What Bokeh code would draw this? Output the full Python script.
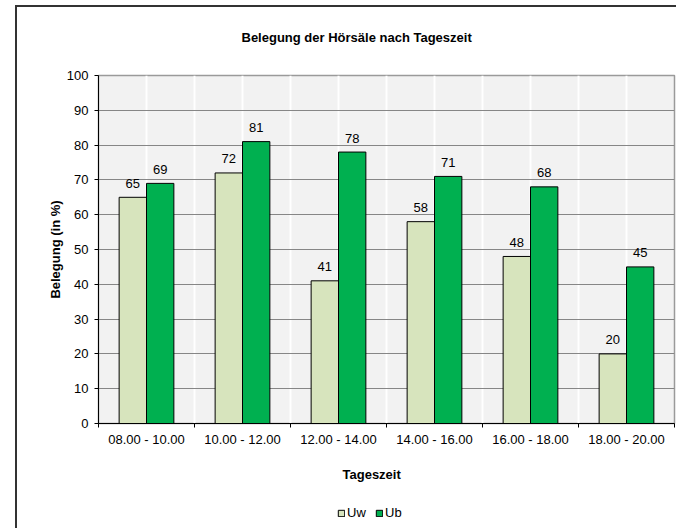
import numpy as np
from bokeh.plotting import figure
from bokeh.layouts import column
from bokeh.models import (ColumnDataSource, FixedTicker, Range1d, Legend,
                          LegendItem, Title)
from bokeh.core.properties import value
from bokeh.transform import dodge
from bokeh.embed import file_html
from bokeh.resources import INLINE

# ---- data ----
categories = ["08.00 - 10.00", "10.00 - 12.00", "12.00 - 14.00",
              "14.00 - 16.00", "16.00 - 18.00", "18.00 - 20.00"]
uw = [65, 72, 41, 58, 48, 20]
ub = [69, 81, 78, 71, 68, 45]
series_names = ["Uw", "Ub"]
y_ticks = [0, 10, 20, 30, 40, 50, 60, 70, 80, 90, 100]
chart_title = "Belegung der Hörsäle nach Tageszeit"
x_title = "Tageszeit"
y_title = "Belegung (in %)"

FONT = "Liberation Sans"
C_UW = "#d7e4bd"
C_UB = "#00b050"

n = len(categories)
idx = list(range(n))
src = ColumnDataSource(dict(x=idx, uw=uw, ub=ub,
                            uw_lbl=[str(v) for v in uw],
                            ub_lbl=[str(v) for v in ub]))

p = figure(width=676, height=501, x_range=Range1d(-0.5, n - 0.5),
           y_range=Range1d(y_ticks[0], y_ticks[-1]),
           output_backend="svg", toolbar_location=None,
           min_border_left=98, min_border_right=2,
           min_border_top=75, min_border_bottom=78)

p.background_fill_color = "#f2f2f2"
p.border_fill_color = None
p.outline_line_color = "#9a9a9a"
p.outline_line_width = 1.5

# grids
p.ygrid.ticker = FixedTicker(ticks=y_ticks)
p.ygrid.grid_line_color = "#868686"
p.ygrid.grid_line_width = 1
p.xgrid.ticker = FixedTicker(ticks=list(np.arange(0, n - 0.5 + 1e-6, 0.5)))
p.xgrid.grid_line_color = "white"
p.xgrid.grid_line_width = 2

bw = 0.285
r_uw = p.vbar(x=dodge("x", -bw / 2, range=p.x_range), top="uw", width=bw,
              source=src, fill_color=C_UW, line_color="black", line_width=1)
r_ub = p.vbar(x=dodge("x", bw / 2, range=p.x_range), top="ub", width=bw,
              source=src, fill_color=C_UB, line_color="black", line_width=1)

for col, off in (("uw", -bw / 2), ("ub", bw / 2)):
    p.text(x=dodge("x", off, range=p.x_range), y=col, text=col + "_lbl",
           source=src, text_align="center", text_baseline="alphabetic",
           y_offset=-14, text_font=value(FONT), text_font_size="13px",
           text_color="black")

# axes
ax = p.xaxis[0]
ax.ticker = FixedTicker(ticks=idx, minor_ticks=list(np.arange(-0.5, n, 1.0)))
ax.major_label_overrides = {i: c for i, c in enumerate(categories)}
ax.major_tick_line_color = None
ax.major_tick_out = 0
ax.major_tick_in = 0
ax.minor_tick_line_color = "black"
ax.minor_tick_out = 4
ax.minor_tick_in = 0
ax.major_label_standoff = 4
ax.major_label_text_font = FONT
ax.major_label_text_font_size = "13px"
ax.major_label_text_color = "black"
ax.axis_line_color = "black"

ay = p.yaxis[0]
ay.ticker = FixedTicker(ticks=y_ticks)
ay.minor_tick_line_color = None
ay.major_tick_out = 4
ay.major_tick_in = 0
ay.major_tick_line_color = "black"
ay.major_label_standoff = 6
ay.major_label_text_font = FONT
ay.major_label_text_font_size = "13px"
ay.major_label_text_color = "black"
ay.axis_line_color = "black"
ay.axis_label = y_title
ay.axis_label_standoff = 1
ay.axis_label_text_font = FONT
ay.axis_label_text_font_size = "13px"
ay.axis_label_text_font_style = "bold"
ay.axis_label_text_color = "black"

# chart title
p.add_layout(Title(text=chart_title, align="left", offset=143,
                   vertical_align="top", standoff=58,
                   text_font=FONT, text_font_size="13px",
                   text_font_style="bold", text_color="black"), "above")
# x-axis title
p.add_layout(Title(text=x_title, align="left", offset=244,
                   vertical_align="top", standoff=35,
                   text_font=FONT, text_font_size="13px",
                   text_font_style="bold", text_color="black"), "below")

# ---- legend strip below the chart (frame aligned with the chart's frame) ----
p2 = figure(width=676, height=27, x_range=Range1d(100, 101), y_range=Range1d(100, 101),
            output_backend="svg", toolbar_location=None, min_border=0,
            x_axis_location=None, y_axis_location=None)
p2.grid.visible = False
p2.outline_line_color = None
p2.background_fill_color = None
p2.border_fill_color = None
# swatch renderers (out of view) carrying the series styles
k_uw = p2.vbar(x=idx, top=uw, width=0.1, fill_color=C_UW, line_color="black")
k_ub = p2.vbar(x=idx, top=ub, width=0.1, fill_color=C_UB, line_color="black")
legend = Legend(items=[LegendItem(label=series_names[0], renderers=[k_uw]),
                       LegendItem(label=series_names[1], renderers=[k_ub])],
                orientation="horizontal", location=(239, 8),
                glyph_width=8, glyph_height=8, label_standoff=2, spacing=8,
                padding=0, margin=0, label_height=13,
                label_text_font=FONT, label_text_font_size="13px",
                label_text_color="black",
                border_line_color=None, background_fill_alpha=0)
p2.add_layout(legend, "center")

layout = column(p, p2, spacing=0)
# outer chart border (left and top edges) painted behind the transparent canvases
layout.styles = {"background": "linear-gradient(#333333,#333333) 15px 5px / 2px 700px no-repeat, "
                               "linear-gradient(#333333,#333333) 15px 5px / 800px 2px no-repeat, "
                               "#ffffff"}

open("out.html", "w").write(file_html(layout, INLINE))
